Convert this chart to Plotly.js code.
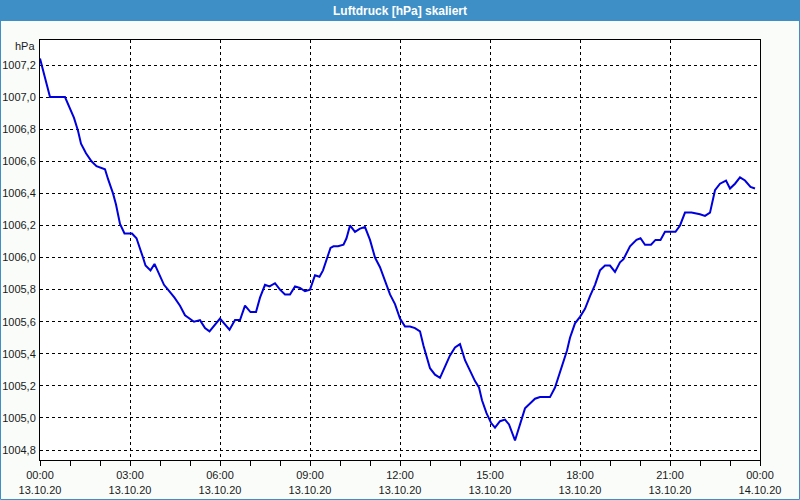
<!DOCTYPE html>
<html>
<head>
<meta charset="utf-8">
<script src="https://cdn.plot.ly/plotly-3.0.1.min.js"></script>
<style>html,body{margin:0;padding:0;background:#f9fcf9;}#chart{width:800px;height:500px;}</style>
</head>
<body>
<div id="chart"></div>
<script>
// Sample times (13.10.2020) and pressure values [hPa]
const times = [
 "00:00","00:20","00:50","01:02","01:08","01:16","01:22","01:32","01:43","01:53",
 "02:10","02:16","02:26","02:32","02:40","02:49","03:04","03:13","03:19","03:26",
 "03:31","03:41","03:49","03:58","04:08","04:16","04:29","04:40","04:50","05:08",
 "05:20","05:30","05:39","06:00","06:19","06:30","06:40","06:50","07:01","07:12",
 "07:20","07:30","07:39","07:50","08:00","08:10","08:20","08:30","08:40","08:50",
 "09:00","09:10","09:19","09:26","09:34","09:41","09:47","09:56","10:07","10:13",
 "10:20","10:30","10:40","10:50","11:00","11:10","11:20","11:30","11:40","11:50",
 "12:00","12:10","12:20","12:30","12:40","12:47","12:53","13:00","13:10","13:20",
 "13:30","13:40","13:50","14:00","14:10","14:20","14:30","14:38","14:44","14:53",
 "15:02","15:10","15:20","15:30","15:38","15:50","16:00","16:10","16:20","16:30",
 "16:40","17:00","17:10","17:20","17:26","17:34","17:40","17:50","18:00","18:10",
 "18:20","18:30","18:40","18:50","19:00","19:10","19:20","19:27","19:40","19:53",
 "20:01","20:10","20:22","20:31","20:41","20:50","21:11","21:20","21:30","21:43",
 "22:00","22:10","22:20","22:30","22:40","22:52","23:00","23:10","23:20","23:30",
 "23:41","23:50"
];
const pressure = [
 1007.24,1007.00,1007.00,1006.91,1006.87,1006.79,1006.71,1006.65,1006.60,1006.57,
 1006.55,1006.49,1006.40,1006.33,1006.21,1006.15,1006.15,1006.12,1006.07,1006.00,
 1005.95,1005.92,1005.96,1005.90,1005.83,1005.80,1005.75,1005.70,1005.64,1005.60,
 1005.61,1005.56,1005.54,1005.62,1005.55,1005.61,1005.61,1005.70,1005.66,1005.66,
 1005.75,1005.83,1005.82,1005.84,1005.80,1005.77,1005.77,1005.82,1005.81,1005.79,
 1005.80,1005.89,1005.88,1005.92,1005.99,1006.06,1006.07,1006.07,1006.08,1006.12,
 1006.20,1006.16,1006.18,1006.19,1006.11,1006.00,1005.94,1005.86,1005.77,1005.71,
 1005.62,1005.57,1005.57,1005.56,1005.54,1005.45,1005.39,1005.31,1005.27,1005.25,
 1005.32,1005.39,1005.44,1005.46,1005.36,1005.29,1005.23,1005.19,1005.11,1005.03,
 1004.97,1004.94,1004.98,1004.99,1004.96,1004.86,1004.96,1005.06,1005.09,1005.12,
 1005.13,1005.13,1005.19,1005.28,1005.34,1005.42,1005.50,1005.59,1005.63,1005.68,
 1005.76,1005.83,1005.92,1005.95,1005.95,1005.91,1005.97,1005.99,1006.07,1006.11,
 1006.12,1006.08,1006.08,1006.11,1006.11,1006.16,1006.16,1006.20,1006.28,1006.28,
 1006.27,1006.26,1006.28,1006.42,1006.46,1006.48,1006.43,1006.46,1006.50,1006.48,
 1006.44,1006.43
];
const tickTimes = ["2020-10-13 00:00","2020-10-13 03:00","2020-10-13 06:00","2020-10-13 09:00",
 "2020-10-13 12:00","2020-10-13 15:00","2020-10-13 18:00","2020-10-13 21:00","2020-10-14 00:00"];
const tickLabels = ["00:00<br>13.10.20","03:00<br>13.10.20","06:00<br>13.10.20","09:00<br>13.10.20",
 "12:00<br>13.10.20","15:00<br>13.10.20","18:00<br>13.10.20","21:00<br>13.10.20","00:00<br>14.10.20"];
const chartTitle = "Luftdruck [hPa] skaliert";
const unitLabel = "hPa";

const x = times.map(t => "2020-10-13 " + t);
const W = 800, H = 500, L = 40, R = 40, T = 40, B = 40;
const pw = W - L - R, ph = H - T - B;
const barColor = "#3d8fc6";
const font = "Liberation Sans, Arial, sans-serif";
const textColor = "#1a1a1a";

const trace = {
  x: x, y: pressure, type: "scatter", mode: "lines",
  line: {color: "#0000dd", width: 2}, hoverinfo: "skip"
};

const layout = {
  width: W, height: H,
  margin: {l: L, r: R, t: T, b: B, pad: 0},
  paper_bgcolor: "#f9fcf9", plot_bgcolor: "#ffffff",
  separators: ",.",
  showlegend: false,
  font: {family: font, size: 11, color: textColor},
  title: {text: "<b>" + chartTitle + "</b>", x: 0.5, xanchor: "center", xref: "paper",
          y: 1 - 10.5 / H, yanchor: "middle", yref: "container",
          font: {family: font, size: 12, color: "#ffffff"}},
  xaxis: {
    type: "date", range: ["2020-10-13 00:00", "2020-10-14 00:00"],
    tickmode: "array", tickvals: tickTimes, ticktext: tickLabels,
    ticks: "outside", ticklen: 5, tickcolor: "#000", tickwidth: 1,
    showgrid: true, gridcolor: "#000", gridwidth: 1, griddash: "dot",
    showline: true, linecolor: "#000", linewidth: 1, mirror: true,
    zeroline: false, automargin: false, fixedrange: true,
    minor: {dtick: 3600000, tick0: "2020-10-13 00:00", ticks: "outside", ticklen: 5, tickcolor: "#000", showgrid: false},
    tickfont: {family: font, size: 11, color: textColor}
  },
  yaxis: {
    range: [1004.738, 1007.356], tick0: 1004.8, dtick: 0.2, tickformat: ".1f",
    ticks: "", ticklabelstandoff: 1,
    showgrid: true, gridcolor: "#000", gridwidth: 1, griddash: "dot",
    showline: true, linecolor: "#000", linewidth: 1, mirror: true,
    zeroline: false, automargin: false, fixedrange: true,
    tickfont: {family: font, size: 11, color: textColor}
  },
  shapes: [
    {type: "rect", xref: "paper", yref: "paper", layer: "below",
     x0: -L / pw, x1: 1 + R / pw, y0: 1 + (T - 21) / ph, y1: 1 + T / ph,
     fillcolor: barColor, line: {width: 0}},
    {type: "rect", xref: "paper", yref: "paper", layer: "above",
     x0: -(L - 0.5) / pw, x1: 1 + (R - 0.5) / pw, y0: -(B - 0.5) / ph, y1: 1 + (T - 0.5) / ph,
     fillcolor: "rgba(0,0,0,0)", line: {color: barColor, width: 1}}
  ],
  annotations: [
    {text: unitLabel, xref: "paper", yref: "paper", x: 0, xanchor: "right", xshift: -3,
     y: 1 - 6 / ph, yanchor: "middle", showarrow: false,
     font: {family: font, size: 11, color: textColor}}
  ]
};

Plotly.newPlot("chart", [trace], layout, {staticPlot: true, displayModeBar: false});
</script>
</body>
</html>
